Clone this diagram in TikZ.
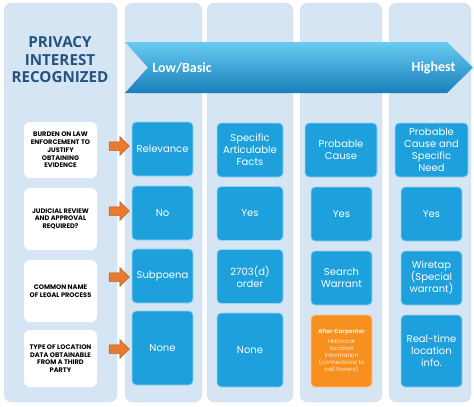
\documentclass[tikz,border=0pt]{standalone}
\usepackage{fontspec}
\setmainfont{Carlito}
\newfontfamily\gothic{Poppins}
\newfontfamily\headfont{Open Sans}
\usetikzlibrary{shapes.arrows, positioning, calc}
\definecolor{panelBlue}{RGB}{214, 229, 243}
\definecolor{cellBlue}{RGB}{29, 160, 219}
\definecolor{titleBlue}{RGB}{35, 82, 128}
\definecolor{pointOrange}{RGB}{233, 122, 46}
\definecolor{carpOrange}{RGB}{247, 144, 30}
\definecolor{bannerTop}{RGB}{104, 203, 242}
\definecolor{bannerMid}{RGB}{35, 166, 223}
\definecolor{bannerBot}{RGB}{24, 128, 186}
\tikzset{
    % Background columns
    colPanel/.style={
        rectangle,
        rounded corners=8pt,
        fill=panelBlue,
        draw=panelBlue!85!black!60,
        line width=0.4pt
    },
    % Blue answer cells
    cellBox/.style={
        rectangle,
        rounded corners=4pt,
        minimum width=61pt,
        minimum height=54pt,
        inner sep=1pt,
        align=center,
        fill=cellBlue,
        draw=cellBlue!45!white,
        line width=0.8pt,
        text=white,
        font=\gothic\fontsize{10}{12}\selectfont
    },
    cellOrange/.style={cellBox, fill=carpOrange, draw=carpOrange!45!white,
        font=\gothic\fontsize{5.8}{6.9}\selectfont, text=white!85!carpOrange},
    % Left question boxes
    askBox/.style={
        rectangle,
        rounded corners=6pt,
        minimum width=73pt,
        inner sep=1pt,
        align=center,
        fill=white,
        text=black,
        font=\gothic\bfseries\fontsize{6.6}{7.7}\selectfont
    },
    % Arrow & Label Styles
    pointArrow/.style={single arrow, single arrow head extend=5pt, inner sep=4pt,
        minimum height=20pt, fill=pointOrange, draw=pointOrange!75!black, line width=0.5pt,
        anchor=tip},
    bannerText/.style={font=\bfseries\fontsize{14}{16}\selectfont, text=white}
}

\begin{document}
\begin{tikzpicture}[x=1pt, y=-1pt]
    \useasboundingbox (0,0) rectangle (474,407);

    % --- COLUMNS ---
    \node (colAsk) [colPanel, minimum width=113pt, minimum height=399pt] at (60.5,202.5) {};
    \node (colLow) [colPanel, minimum width=77pt, minimum height=399pt] at (163.5,202.5) {};
    \node (colMid) [colPanel, minimum width=86pt, minimum height=399pt] at (250,202.5) {};
    \node (colHigh) [colPanel, minimum width=82pt, minimum height=399pt] at (341,202.5) {};
    \node (colTop) [colPanel, minimum width=82pt, minimum height=399pt] at (430,202.5) {};

    % --- BANNER ---
    \shade[top color=bannerTop, middle color=bannerMid, bottom color=bannerBot]
        (125,42) -- (447,42) -- (473,67.5) -- (447,93) -- (125,93) -- (148,67.5) -- cycle;
    \node (low) [bannerText] at (182,67.5) {Low/Basic};
    \node (high) [bannerText, anchor=east] at (459,67.5) {Highest};

    % --- TITLE ---
    \node (title) [align=center, text=titleBlue, font=\headfont\bfseries\fontsize{15.2}{17.5}\selectfont]
        at (60,60) {PRIVACY\\INTEREST\\RECOGNIZED};

    % --- QUESTIONS ---
    \node (ask1) [askBox, minimum height=56pt] at (60.5,150) {
        BURDEN ON LAW\\ENFORCEMENT TO\\JUSTIFY\\OBTAINING\\EVIDENCE};
    \node (ask2) [askBox, minimum height=62pt] at (60.5,219) {
        JUDICIAL REVIEW\\AND APPROVAL\\REQUIRED?};
    \node (ask3) [askBox, minimum height=62pt] at (60.5,291) {
        COMMON NAME\\OF LEGAL PROCESS};
    \node (ask4) [askBox, minimum height=57pt] at (60.5,358.5) {
        TYPE OF LOCATION\\DATA OBTAINABLE\\FROM A THIRD\\PARTY};

    % --- LOW/BASIC COLUMN ---
    \node (low1) [cellBox] at (162.5,149) {Relevance};
    \node (low2) [cellBox] at (162.5,213) {No};
    \node (low3) [cellBox] at (162.5,276) {Subpoena};
    \node (low4) [cellBox, minimum height=74pt] at (162.5,348) {None};

    % --- SECOND COLUMN ---
    \node (mid1) [cellBox, minimum width=66pt] at (250,150) {Specific\\Articulable\\Facts};
    \node (mid2) [cellBox, minimum width=66pt] at (250,213.5) {Yes};
    \node (mid3) [cellBox, minimum width=66pt] at (250,276.5) {2703(d)\\order};
    \node (mid4) [cellBox, minimum width=66pt, minimum height=74pt] at (250,350) {None};

    % --- THIRD COLUMN ---
    \node (high1) [cellBox, minimum width=72pt] at (341,150) {Probable\\Cause};
    \node (high2) [cellBox] at (341.5,214) {Yes};
    \node (high3) [cellBox] at (341.5,278) {Search\\Warrant};
    \node (high4) [cellOrange, minimum height=72pt] at (341.5,351) {
        \textbf{After Carpenter}\\[3pt]Historical\\location\\information\\(connections to\\cell towers)};

    % --- HIGHEST COLUMN ---
    \node (top1) [cellBox, minimum width=73pt] at (431.5,150) {Probable\\Cause and\\Specific\\Need};
    \node (top2) [cellBox] at (431.5,214) {Yes};
    \node (top3) [cellBox] at (431.5,278) {Wiretap\\(Special\\warrant)};
    \node (top4) [cellBox, minimum height=72pt] at (431.5,351) {Real-time\\location\\info.};

    % --- Arrows (question -> first answer) ---
    \node (point1) [pointArrow] at ($(low1.west)+(-2,-3)$) {};
    \node (point2) [pointArrow] at ($(low2.west)+(-2,-2)$) {};
    \node (point3) [pointArrow] at ($(low3.west)+(-2,1)$) {};
    \node (point4) [pointArrow] at ($(low4.west)+(-2,1)$) {};

\end{tikzpicture}
\end{document}
